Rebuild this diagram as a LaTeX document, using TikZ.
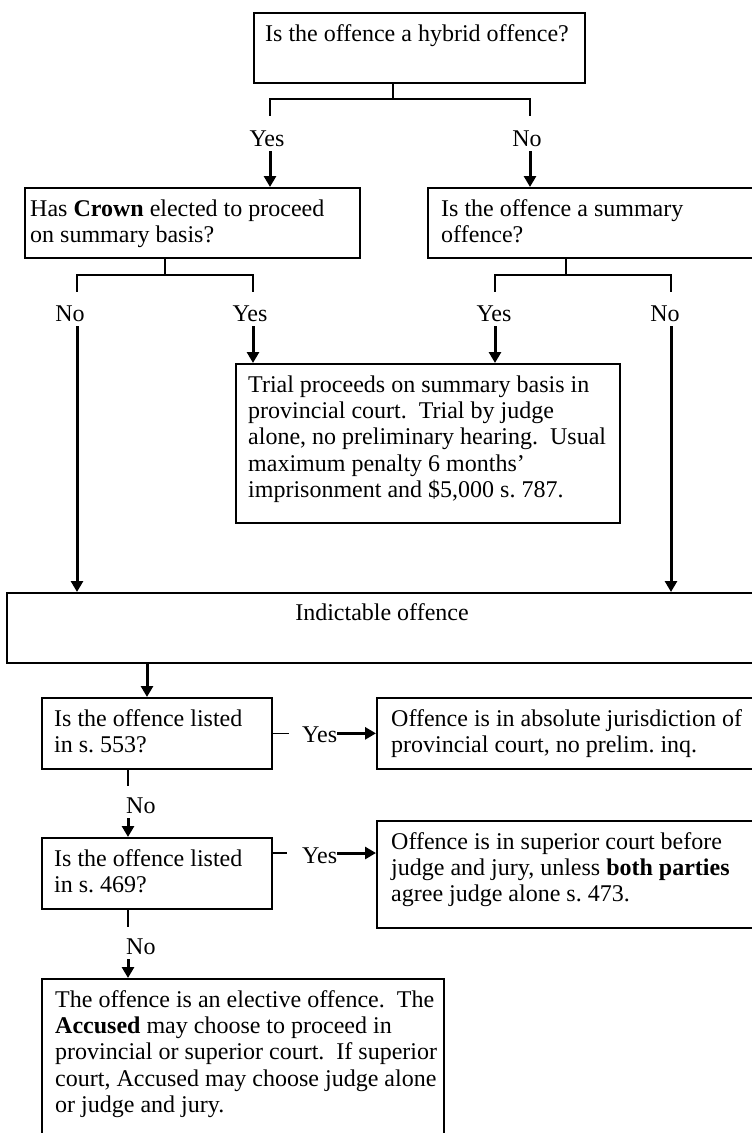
\documentclass[tikz,border=0pt]{standalone}
\usepackage{fontspec}
\setmainfont{Liberation Serif}
\usetikzlibrary{arrows.meta}

\newcommand{\firstline}{\rule{0pt}{18.5pt}}

\tikzset{
  box/.style={draw, line width=1.7pt, anchor=north west, inner sep=0pt},
  txt/.style={anchor=north west, inner sep=0pt, align=left,
              font=\fontsize{24}{26.3}\selectfont},
  lbl/.style={inner sep=0pt, anchor=base, text height=16.5pt, text depth=5pt,
              font=\fontsize{24}{26.3}\selectfont},
  split/.style={line width=1.5pt},
  arr/.style={line width=3pt, -{Triangle[length=11pt,width=12pt]}},
}

\begin{document}
\begin{tikzpicture}[x=1pt,y=-1pt]
\frenchspacing
\useasboundingbox (0,0) rectangle (752,1133);
\clip (0,0) rectangle (752,1133);

% boxes
\node[box, minimum width=331, minimum height=70] (hyb) at (253,12) {};
\node[box, minimum width=335, minimum height=70] (crown) at (24,187) {};
\node[box, minimum width=340, minimum height=70] (summ) at (427,187) {};
\node[box, minimum width=384, minimum height=159] (trial) at (235,363) {};
\node[box, minimum width=760, minimum height=70] (ind) at (6,592) {};
\node[box, minimum width=230, minimum height=71] (s553) at (41,697) {};
\node[box, minimum width=390, minimum height=71] (absol) at (376,697) {};
\node[box, minimum width=230, minimum height=71] (s469) at (41,837) {};
\node[box, minimum width=390, minimum height=107] (super) at (376,820) {};
\node[box, minimum width=402, minimum height=170] (elect) at (41,978) {};

% texts
\node[txt] (hybt) at (265,22.5) {\firstline Is the offence a hybrid offence?};
\node[txt] (crownt) at (30,197.5) {\firstline Has \textbf{Crown} elected to proceed\\ on summary basis?};
\node[txt] (summt) at (441,197.5) {\firstline Is the offence a summary\\ offence?};
\node[txt] (trialt) at (248,373.5) {\firstline Trial proceeds on summary basis in\\
  provincial court.\ \ Trial by judge\\ alone, no preliminary hearing.\ \ Usual\\
  maximum penalty 6 months'\\ imprisonment and \$5,000 s. 787.};
\node[lbl] (indt) at (382,620) {Indictable offence};
\node[txt] (s553t) at (54,707.5) {\firstline Is the offence listed\\ in s. 553?};
\node[txt] (absolt) at (391,707.5) {\firstline Offence is in absolute jurisdiction of\\
  provincial court, no prelim. inq.};
\node[txt] (s469t) at (54,847.5) {\firstline Is the offence listed\\ in s. 469?};
\node[txt] (supert) at (391,830.5) {\firstline Offence is in superior court before\\
  judge and jury, unless \textbf{both parties}\\ agree judge alone s. 473.};
\node[txt] (electt) at (55,988.5) {\firstline The offence is an elective offence.\ \ The\\
  \textbf{Accused} may choose to proceed in\\ provincial or superior court.\ \ If superior\\
  court, Accused may choose judge alone\\ or judge and jury.};

% yes / no labels
\node[lbl] (yesA) at (267,146) {Yes};
\node[lbl] (noA) at (527,146) {No};
\node[lbl] (noB) at (70,321) {No};
\node[lbl] (yesB) at (250,321) {Yes};
\node[lbl] (yesC) at (494,321) {Yes};
\node[lbl] (noC) at (665,321) {No};
\node[lbl, anchor=base west] (yesD) at (302,742) {Yes};
\node[lbl, anchor=base west] (noD) at (126,813) {No};
\node[lbl, anchor=base west] (yesE) at (302,863) {Yes};
\node[lbl, anchor=base west] (noE) at (126,954) {No};

% columns and forks
\coordinate (t1) at (270,0);
\coordinate (t2) at (530,0);
\coordinate (c1) at (77,0);
\coordinate (c2) at (253,0);
\coordinate (c3) at (495,0);
\coordinate (c4) at (671,0);
\coordinate (c5) at (128,0);
\coordinate (c6) at (147,0);
\coordinate (fA) at (393,99);
\coordinate (fB) at (165,275);
\coordinate (fC) at (566,275);
\coordinate (dE) at (287,853);

% hybrid?
\draw[split] (hyb.south -| fA) -- (fA) -- (fA -| t1) -- ++(0,17);
\draw[split] (fA) -- (fA -| t2) -- ++(0,17);
\draw[arr] (yesA.south -| t1) -- (crown.north -| t1);
\draw[arr] (noA.south -| t2) -- (summ.north -| t2);

% crown / summary
\draw[split] (crown.south -| fB) -- (fB) -- (fB -| c1) -- ++(0,17);
\draw[split] (fB) -- (fB -| c2) -- ++(0,17);
\draw[split] (summ.south -| fC) -- (fC) -- (fC -| c3) -- ++(0,17);
\draw[split] (fC) -- (fC -| c4) -- ++(0,17);
\draw[arr] (yesB.south -| c2) -- (trial.north -| c2);
\draw[arr] (yesC.south -| c3) -- (trial.north -| c3);
\draw[arr] (noB.south -| c1) -- (ind.north -| c1);
\draw[arr] (noC.south -| c4) -- (ind.north -| c4);

% indictable
\draw[arr] (ind.south -| c6) -- (s553.north -| c6);
\draw[split] (s553.east) -- ++(16,0);
\draw[arr] (yesD.east |- absol.west) -- (absol.west);
\draw[split] (s553.south -| c5) -- ++(0,16);
\draw[arr] (noD.south -| c5) -- (s469.north -| c5);
\draw[split] (s469.east |- dE) -- (dE);
\draw[arr] (yesE.east |- dE) -- (super.west |- dE);
\draw[split] (s469.south -| c5) -- ++(0,17);
\draw[arr] (noE.south -| c5) -- (elect.north -| c5);

\end{tikzpicture}
\end{document}
